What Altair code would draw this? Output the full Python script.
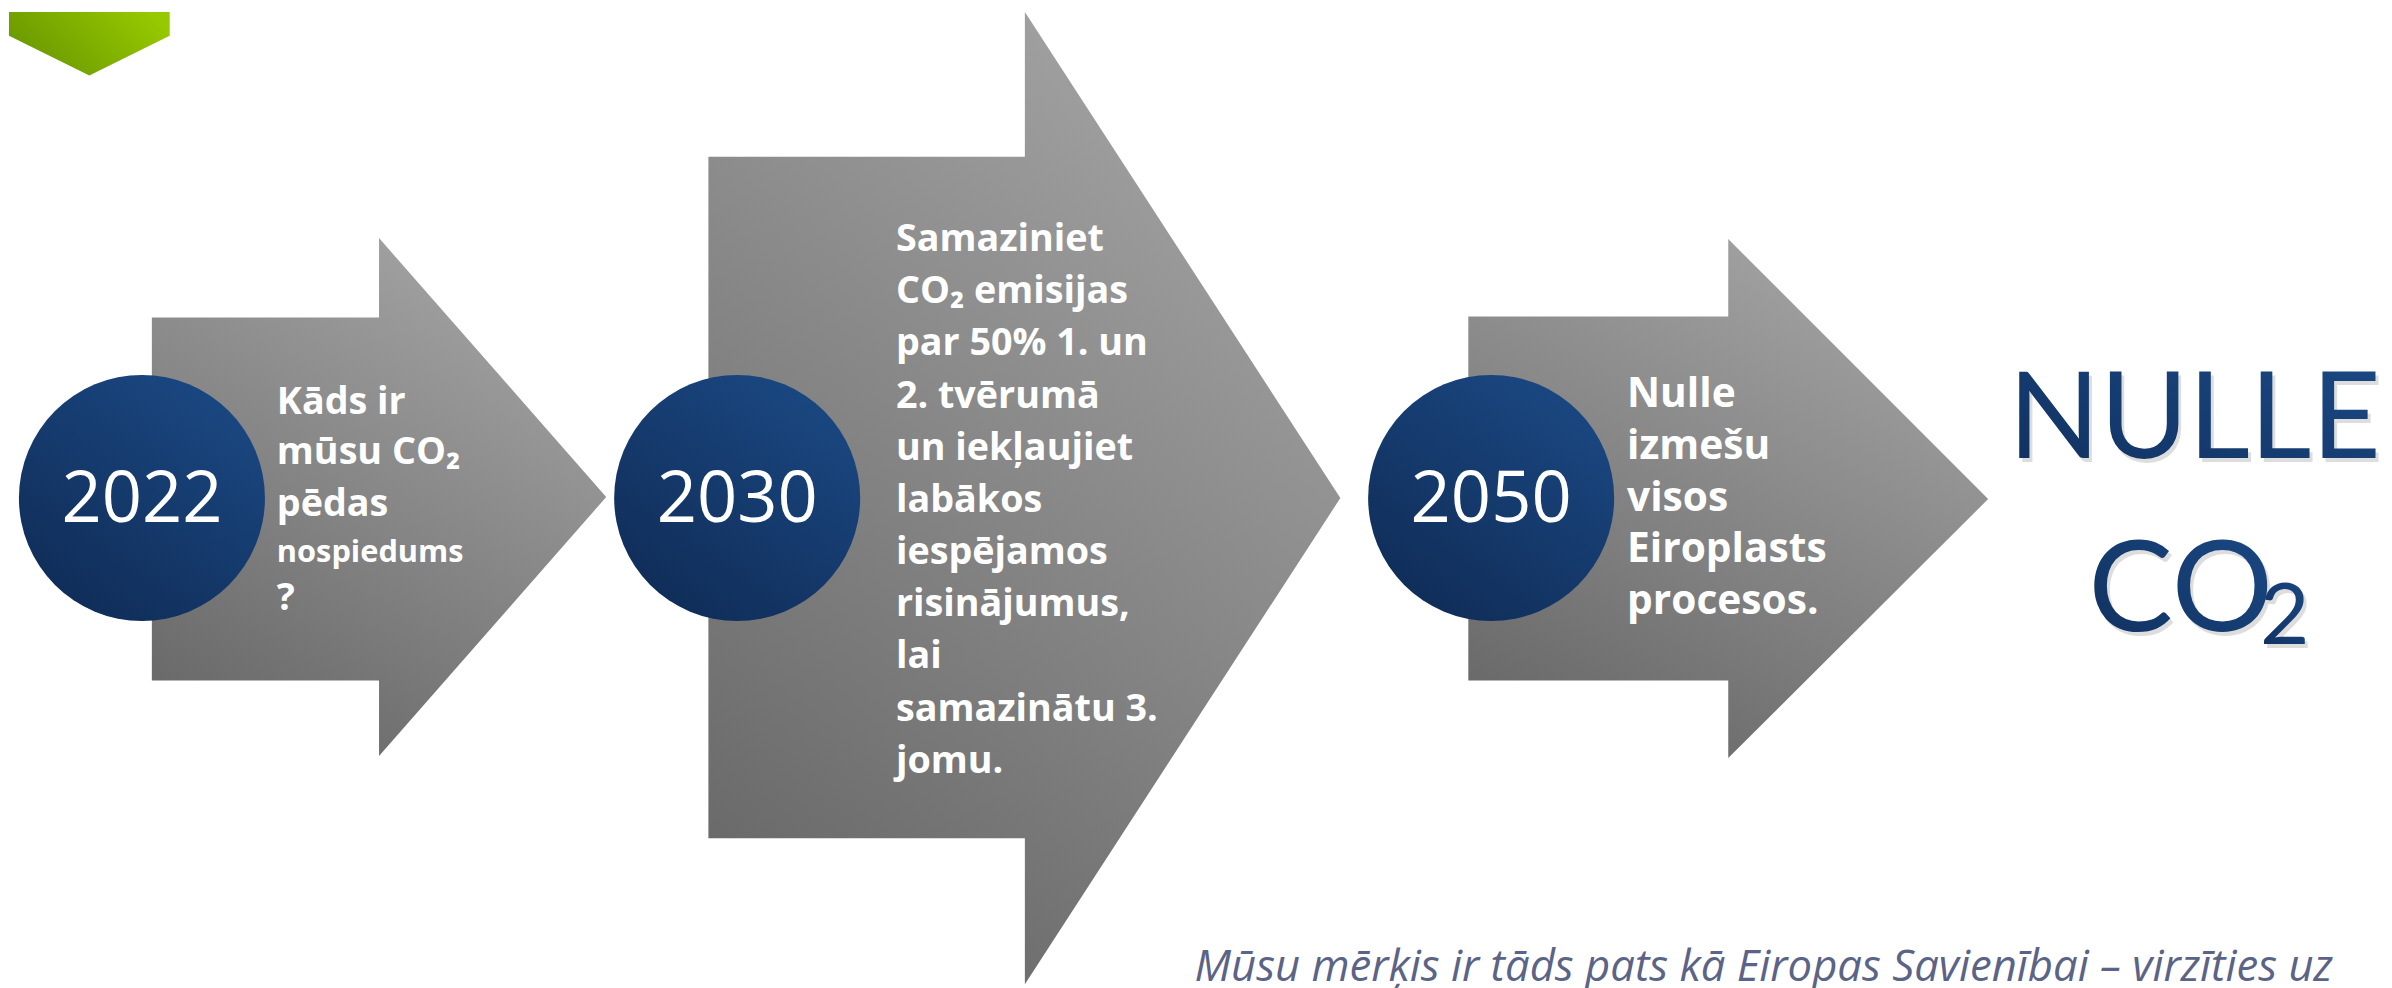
import altair as alt
import pandas as pd

# ---------------- content ----------------
years = ["2022", "2030", "2050"]
step_lines = [
    ["Kāds ir", "mūsu CO₂", "pēdas", "nospiedums", "?"],
    ["Samaziniet", "CO₂ emisijas", "par 50% 1. un", "2. tvērumā", "un iekļaujiet",
     "labākos", "iespējamos", "risinājumus,", "lai", "samazinātu 3.", "jomu."],
    ["Nulle", "izmešu", "visos", "Eiroplasts", "procesos."],
]
small_line = "nospiedums"
goal_word = "NULLE"
goal_co = "CO"
goal_sub = "2"
footer = "Mūsu mērķis ir tāds pats kā Eiropas Savienībai – virzīties uz"

# ---------------- layout (page pixels) ----------------
W, H = 2376, 980
OX, OY = 8, 8
xs = alt.Scale(domain=[OX, OX + W], range=[0, W], zero=False, nice=False)
ys = alt.Scale(domain=[OY, OY + H], range=[0, H], zero=False, nice=False)

arrows = [
    dict(left=146, st=316, sb=682, hx=375, ht=236, hb=758, tip=604, mid=497),
    dict(left=707, st=154, sb=841, hx=1026, ht=8, hb=988, tip=1344, mid=498),
    dict(left=1473, st=315, sb=682, hx=1735, ht=237, hb=760, tip=1997, mid=499),
]
circle_cx = [136, 736, 1496]
circle_cy = 498
circle_r = 124
year_base = 522

text_x = [272, 896, 1633]
text_first = [413, 249, 406]
text_steps = [[51, 52, 46, 49], [52.6] * 10, [52.3] * 4]
text_size = [38, 38, 41]

# ---------------- styles ----------------
grey_grad = alt.Gradient(gradient="linear",
                         stops=[alt.GradientStop(offset=0, color="#a5a5a5"),
                                alt.GradientStop(offset=1, color="#696969")],
                         x1=0.75, y1=0, x2=0.25, y2=1)
blue_grad = alt.Gradient(gradient="linear",
                         stops=[alt.GradientStop(offset=0, color="#0f2b55"),
                                alt.GradientStop(offset=1, color="#1b4984")],
                         x1=0.15, y1=1, x2=0.85, y2=0)
green_grad = alt.Gradient(gradient="linear",
                          stops=[alt.GradientStop(offset=0, color="#679500"),
                                 alt.GradientStop(offset=1, color="#97c900")],
                          x1=0, y1=0.7, x2=1, y2=0.3)
text_grad = alt.Gradient(gradient="linear",
                         stops=[alt.GradientStop(offset=0, color="#10305e"),
                                alt.GradientStop(offset=1, color="#1b4a86")],
                         x1=0, y1=1, x2=1, y2=0)


def X(f="x"):
    return alt.X(f"{f}:Q", scale=xs, axis=None)


def Y(f="y"):
    return alt.Y(f"{f}:Q", scale=ys, axis=None)


def band(xv, top, bot, grad):
    df = pd.DataFrame(dict(px=xv, top=top, bot=bot))
    return alt.Chart(df).mark_area(color=grad, interpolate="linear").encode(
        x=X("px"), y=Y("top"), y2=alt.Y2("bot"))


# green chevron (top-left)
chev = band([2, 83, 164], [OY, OY, OY], [32, 72, 32], green_grad)

# grey arrows
arrow_layers = []
for a in arrows:
    xv = [a["left"], a["hx"], a["hx"] + 0.01, a["tip"]]
    top = [a["st"], a["st"], a["ht"], a["mid"]]
    bot = [a["sb"], a["sb"], a["hb"], a["mid"]]
    arrow_layers.append(band(xv, top, bot, grey_grad))

circ_df = pd.DataFrame(dict(x=circle_cx, y=[circle_cy] * 3, year=years))
year_df = pd.DataFrame(dict(x=circle_cx, y=[year_base] * 3, year=years))

circles = alt.Chart(circ_df).mark_point(
    shape="circle", filled=True, size=(2 * circle_r) ** 2, opacity=1,
    fill=blue_grad, strokeWidth=0).encode(x=X(), y=Y())

year_txt = alt.Chart(year_df).mark_text(
    font="Open Sans", fontSize=71, color="white", align="center",
    baseline="alphabetic").encode(x=X(), y=Y(), text="year:N")

body_layers = []
for k, lines in enumerate(step_lines):
    y = text_first[k]
    rows = []
    for j, ln in enumerate(lines):
        rows.append(dict(x=text_x[k], y=y, t=ln, small=(ln == small_line)))
        if j < len(text_steps[k]):
            y += text_steps[k][j]
    df = pd.DataFrame(rows)
    main_df = df[~df.small]
    small_df = df[df.small]
    body_layers.append(alt.Chart(main_df).mark_text(
        font="Open Sans", fontSize=text_size[k], fontWeight="bold", color="white",
        align="left", baseline="alphabetic").encode(x=X(), y=Y(), text="t:N"))
    if len(small_df):
        body_layers.append(alt.Chart(small_df).mark_text(
            font="Open Sans", fontSize=31, fontWeight="bold", color="white",
            align="left", baseline="alphabetic").encode(x=X(), y=Y(), text="t:N"))

goal_df = pd.DataFrame(dict(x=[2205], y=[458], t=[goal_word]))
co_df = pd.DataFrame(dict(x=[2098], y=[632], t=[goal_co]))
sub_df = pd.DataFrame(dict(x=[2271], y=[645], t=[goal_sub]))
foot_df = pd.DataFrame(dict(x=[1197], y=[985], t=[footer]))


def shadowed(df, **kw):
    sh = alt.Chart(df).mark_text(color="#000000", opacity=0.13, dx=3, dy=4, **kw).encode(
        x=X(), y=Y(), text="t:N")
    main = alt.Chart(df).mark_text(color=text_grad, **kw).encode(x=X(), y=Y(), text="t:N")
    return [sh, main]


goal_layers = (
    shadowed(goal_df, font="Lato", fontSize=121, align="center", baseline="alphabetic")
    + shadowed(co_df, font="Lato", fontSize=128, align="left", baseline="alphabetic")
    + shadowed(sub_df, font="Lato", fontSize=86, align="left", baseline="alphabetic")
)

foot = alt.Chart(foot_df).mark_text(
    font="Open Sans", fontSize=44, fontStyle="italic", color="#5b6386",
    align="left", baseline="alphabetic").encode(x=X(), y=Y(), text="t:N")

chart = alt.layer(
    chev, *arrow_layers, circles, year_txt, *body_layers, *goal_layers, foot
).properties(width=W, height=H, padding=0, background="white").configure_view(stroke=None)

chart.save("out.html", embed_options={"renderer": "svg", "actions": False})
